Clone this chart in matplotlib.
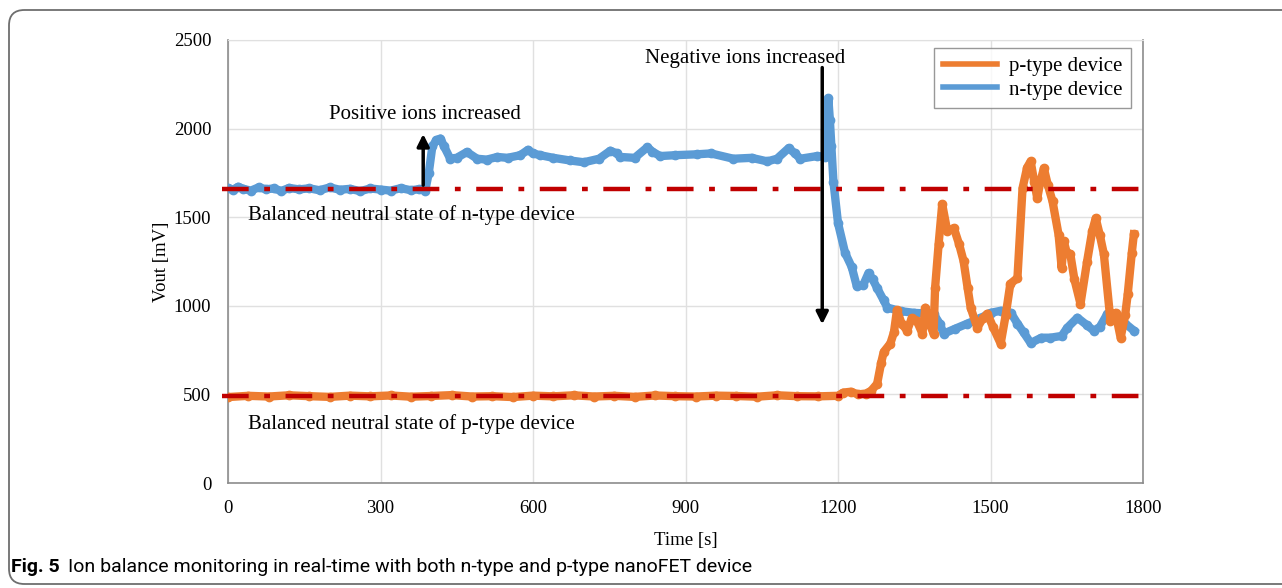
import matplotlib
matplotlib.use('Agg')
import matplotlib.pyplot as plt
from matplotlib.patches import FancyBboxPatch

plt.rcParams['font.family'] = ['Liberation Serif', 'DejaVu Serif']

# n-type device (blue)
n_time = [0, 10, 20, 30, 45, 60, 75, 90, 105, 120, 140, 160, 180, 200, 220, 240, 260, 280,
          300, 320, 340, 360, 375, 388, 395, 402, 410, 418, 425, 437, 450, 470, 490, 509,
          530, 550, 575, 590, 600, 614, 640, 673, 700, 730, 752, 765, 772, 800, 825, 835,
          850, 880, 923, 950, 994, 1030, 1061, 1080, 1103, 1115, 1126, 1159, 1175, 1178,
          1181, 1184, 1187, 1191, 1200, 1214, 1227, 1237, 1250, 1260, 1268, 1277, 1290,
          1297, 1323, 1350, 1388, 1400, 1408, 1430, 1454, 1480, 1500, 1520, 1540, 1553,
          1565, 1579, 1600, 1618, 1640, 1651, 1671, 1690, 1703, 1715, 1730, 1750, 1765, 1782]
n_vout = [1665, 1655, 1672, 1660, 1650, 1668, 1658, 1662, 1648, 1665, 1657, 1663, 1652, 1668,
          1655, 1660, 1647, 1662, 1656, 1650, 1664, 1652, 1658, 1650, 1750, 1900, 1935, 1944,
          1900, 1831, 1835, 1868, 1830, 1825, 1840, 1835, 1850, 1880, 1860, 1850, 1835, 1820,
          1810, 1830, 1875, 1860, 1840, 1835, 1895, 1870, 1845, 1850, 1855, 1860, 1830, 1835,
          1815, 1830, 1890, 1860, 1830, 1845, 1840, 1850, 2170, 2050, 1900, 1700, 1467, 1298,
          1219, 1110, 1120, 1185, 1150, 1100, 1030, 990, 970, 960, 955, 900, 843, 870, 899,
          930, 960, 972, 960, 900, 850, 790, 820, 820, 830, 876, 933, 890, 860, 880, 955, 930,
          900, 860]

# p-type device (orange)
p_time = [0, 40, 80, 120, 160, 200, 240, 280, 320, 360, 400, 440, 480, 520, 560, 600, 640,
          680, 720, 760, 800, 840, 880, 920, 960, 1000, 1040, 1080, 1120, 1160, 1200, 1210,
          1225, 1240, 1255, 1265, 1277, 1285, 1290, 1303, 1310, 1316, 1325, 1336, 1345, 1355,
          1366, 1372, 1380, 1388, 1391, 1398, 1405, 1415, 1428, 1438, 1447, 1455, 1461, 1474,
          1485, 1494, 1505, 1520, 1530, 1539, 1553, 1563, 1572, 1579, 1586, 1592, 1598, 1605,
          1613, 1622, 1634, 1640, 1644, 1650, 1657, 1665, 1677, 1690, 1700, 1707, 1715, 1723,
          1736, 1746, 1756, 1765, 1770, 1778, 1782]
p_vout = [485, 492, 488, 495, 490, 486, 493, 489, 494, 487, 491, 496, 488, 490, 485, 493, 489,
          495, 488, 492, 486, 494, 490, 488, 493, 491, 487, 495, 490, 489, 492, 510, 515, 500,
          505, 520, 560, 680, 740, 787, 850, 975, 900, 860, 930, 916, 843, 989, 900, 843, 1101,
          1350, 1573, 1421, 1438, 1350, 1253, 1100, 989, 876, 930, 955, 880, 787, 950, 1124,
          1157, 1663, 1780, 1815, 1700, 1607, 1700, 1775, 1680, 1590, 1400, 1213, 1365, 1300,
          1292, 1150, 1011, 1250, 1420, 1494, 1400, 1292, 916, 960, 820, 950, 1067, 1300, 1404]

n_neutral = 1660
p_neutral = 490

xticks = [0, 300, 600, 900, 1200, 1500, 1800]
yticks = [0, 500, 1000, 1500, 2000, 2500]

blue = '#5B9BD5'
orange = '#ED7D31'
red = '#C00000'

fig = plt.figure(figsize=(12.82, 5.88), dpi=100)
ax = fig.add_axes([228/1282, 1-483/588, (1143-228)/1282, (483-40)/588])

ax.plot(n_time, n_vout, '-o', color=blue, lw=6, ms=6, label='n-type device', zorder=3)
ax.plot(p_time, p_vout, '-o', color=orange, lw=6, ms=6, label='p-type device', zorder=4)

for lvl in (n_neutral, p_neutral):
    ax.plot([-12, 1800], [lvl, lvl], color=red, lw=3.2, dashes=(6, 3.5, 1.3, 3.5),
            clip_on=False, zorder=5)

ax.annotate('', xy=(1169, 880), xytext=(1169, 2360),
            arrowprops=dict(arrowstyle='-|>', color='k', lw=2.5, mutation_scale=18),
            zorder=6, annotation_clip=False)
ax.annotate('', xy=(384, 1985), xytext=(384, 1665),
            arrowprops=dict(arrowstyle='-|>', color='k', lw=2.5, mutation_scale=18),
            zorder=6)

fs = 13.5
afs = 15
ax.text(1017, 2398, 'Negative ions increased', fontsize=afs, ha='center', va='center')
ax.text(388, 2077, 'Positive ions increased', fontsize=afs, ha='center', va='center')
ax.text(39, 1512, 'Balanced neutral state of n-type device', fontsize=afs, va='center')
ax.text(39, 333, 'Balanced neutral state of p-type device', fontsize=afs, va='center')

ax.set_xlim(0, 1800)
ax.set_ylim(0, 2500)
ax.set_xticks(xticks)
ax.set_yticks(yticks)
ax.tick_params(length=0, labelsize=fs, pad=12)
ax.grid(True, color='#e0e0e0', lw=1)
ax.set_axisbelow(True)
for s in ('left', 'bottom', 'right'):
    ax.spines[s].set_color('#8c8c8c')
    ax.spines[s].set_linewidth(1.2)
ax.spines['top'].set_color('#e0e0e0')

ax.set_xlabel('Time [s]', fontsize=fs, labelpad=11)
ax.set_ylabel('Vout [mV]', fontsize=fs, labelpad=3)

handles, labels = ax.get_legend_handles_labels()
leg = ax.legend(handles[::-1], labels[::-1], loc='upper right', bbox_to_anchor=(0.987, 0.982),
                borderaxespad=0, fontsize=afs, frameon=True, fancybox=False, handlelength=2.6,
                borderpad=0.4, labelspacing=0.2, handletextpad=0.6)
leg.get_frame().set_edgecolor('#7f7f7f')
leg.get_frame().set_linewidth(1.0)
for h in leg.legend_handles:
    h.set_marker('')
    h.set_linewidth(4)

# rounded frame around the figure
box = FancyBboxPatch((9/1282, 4/588), 1.05, 1 - 14/588, boxstyle='round,pad=0,rounding_size=0.012',
                     transform=fig.transFigure, fill=False, edgecolor='#6e6e6e', lw=1.3,
                     clip_on=False, mutation_aspect=1282/588)
fig.patches.append(box)

cap = ['Roboto', 'DejaVu Sans']
fig.text(11/1282, 1-567/588, 'Fig. 5', fontsize=14, fontweight='bold', family=cap, va='center')
fig.text(68/1282, 1-567/588, 'Ion balance monitoring in real-time with both n-type and p-type nanoFET device',
         fontsize=14, family=cap, va='center')

fig.savefig('out.png', dpi=100)
